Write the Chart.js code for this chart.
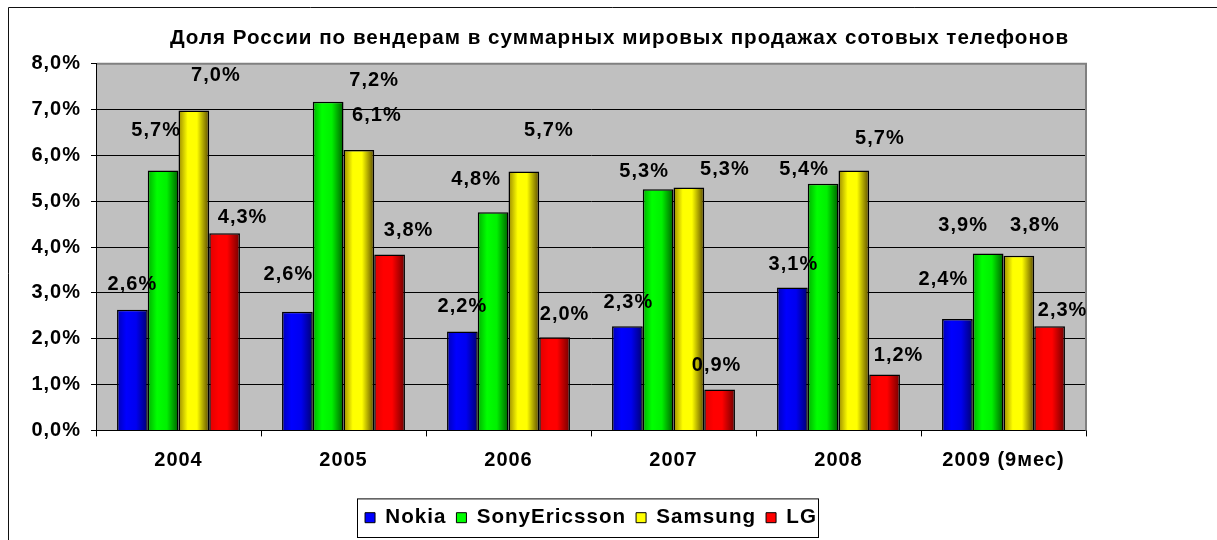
<!DOCTYPE html>
<html lang="ru">
<head>
<meta charset="utf-8">
<title>Доля России по вендерам</title>
<script src="https://cdn.jsdelivr.net/npm/chart.js@4.4.0/dist/chart.umd.min.js"></script>
<style>
  html, body { margin: 0; padding: 0; background: #fff; }
  #wrap { position: relative; width: 1217px; height: 540px; }
</style>
</head>
<body>
<div id="wrap"><canvas id="chartShare"></canvas></div>
<script>
// --- data (share of world sales, %) ---
const years = ['2004', '2005', '2006', '2007', '2008', '2009 (9мес)'];
const nokia = [2.63, 2.59, 2.16, 2.27, 3.12, 2.43];
const sonyEricsson = [5.67, 7.17, 4.76, 5.26, 5.38, 3.86];
const samsung = [6.98, 6.12, 5.65, 5.30, 5.67, 3.81];
const lg = [4.30, 3.84, 2.03, 0.89, 1.22, 2.27];
const yTicks = [0, 1, 2, 3, 4, 5, 6, 7, 8];

const FONT = "'Liberation Sans', Arial, sans-serif";
Chart.defaults.font.family = FONT;
Chart.defaults.font.size = 20;
Chart.defaults.font.weight = 'bold';
Chart.defaults.color = '#000';

const flat = ['#0000ff', '#00ff00', '#ffff00', '#ff0000'];
// horizontal shading of each bar, left -> right
const shades = [
  [[0, '#0000b8'], [0.3, '#0000ff'], [0.62, '#0000f0'], [1, '#000070']],
  [[0, '#00b000'], [0.3, '#00ff00'], [0.62, '#00f000'], [1, '#006000']],
  [[0, '#9a8a00'], [0.3, '#ffff00'], [0.6, '#ffff00'], [1, '#5a4a00']],
  [[0, '#e00000'], [0.3, '#ff0000'], [0.58, '#ff0000'], [1, '#700000']],
];

// label nudges from the bar top (Excel had them dragged by hand)
const labelNudge = [
  [[0, -25], [-9, -37], [0, -25], [1, -24], [1, -23], [-14, -40]],
  [[-7, -40], [46, -21], [-17, -33], [-14, -18], [-19, -14], [-25, -28]],
  [[22, -35], [18, -34], [25, -41], [36, -18], [26, -32], [16, -30]],
  [[18, -16], [19, -24], [10, -23], [-3, -24], [14, -19], [13, -16]],
];

const pct = (v) => v.toFixed(1).replace('.', ',') + '%';

const spacing = {
  id: 'spacing',
  beforeLayout(chart) { chart.ctx.letterSpacing = '1px'; },
  beforeDraw(chart) { chart.ctx.letterSpacing = '1px'; },
};

// white page, outer frame, grey plot area
const frame = {
  id: 'frame',
  beforeDraw(chart) {
    const { ctx, chartArea: a, width, height } = chart;
    ctx.save();
    ctx.fillStyle = '#fff';
    ctx.fillRect(0, 0, width, height);
    ctx.strokeStyle = '#111';
    ctx.lineWidth = 1;
    ctx.beginPath();
    ctx.moveTo(8.5, height);
    ctx.lineTo(8.5, 7.5);
    ctx.lineTo(width, 7.5);
    ctx.stroke();
    ctx.fillStyle = '#c0c0c0';
    ctx.fillRect(a.left, a.top, a.right - a.left, a.bottom - a.top);
    ctx.restore();
  },
};

const barShade = {
  id: 'barShade',
  beforeDatasetsDraw(chart) {
    const { ctx, chartArea: a } = chart;
    // grey edge of the plot area on top and right
    ctx.save();
    ctx.strokeStyle = '#808080';
    ctx.lineWidth = 2;
    ctx.beginPath();
    ctx.moveTo(a.left + 1, a.top);
    ctx.lineTo(a.right, a.top);
    ctx.lineTo(a.right, a.bottom);
    ctx.stroke();
    ctx.restore();

    chart.data.datasets.forEach((ds, i) => {
      chart.getDatasetMeta(i).data.forEach((bar) => {
        const { x, width } = bar.getProps(['x', 'width'], true);
        const g = ctx.createLinearGradient(x - width / 2, 0, x + width / 2, 0);
        shades[i].forEach(([stop, c]) => g.addColorStop(stop, c));
        bar.options.backgroundColor = g;
      });
    });
  },
};

const valueLabels = {
  id: 'valueLabels',
  afterDatasetsDraw(chart) {
    const ctx = chart.ctx;
    ctx.save();
    ctx.font = `bold 20px ${FONT}`;
    ctx.fillStyle = '#000';
    ctx.textAlign = 'center';
    ctx.textBaseline = 'middle';
    chart.data.datasets.forEach((ds, i) => {
      chart.getDatasetMeta(i).data.forEach((bar, j) => {
        const [dx, dy] = labelNudge[i][j];
        ctx.fillText(pct(ds.data[j]), bar.x + dx, bar.y + dy);
      });
    });
    ctx.restore();
  },
};

const legendBox = {
  id: 'legendBox',
  afterDraw(chart) {
    const lg = chart.legend;
    if (!lg || !lg.legendHitBoxes.length) return;
    const boxes = lg.legendHitBoxes;
    const left = Math.min(...boxes.map((b) => b.left)) - 8;
    const right = Math.max(...boxes.map((b) => b.left + b.width)) + 1;
    const ctx = chart.ctx;
    ctx.save();
    ctx.strokeStyle = '#000';
    ctx.lineWidth = 1;
    ctx.strokeRect(Math.round(left) + 0.5, lg.top + 1.5, Math.round(right - left), lg.height - 2);
    ctx.restore();
  },
};

const makeSet = (label, values, i) => ({
  label,
  data: values,
  backgroundColor: () => flat[i],
  borderColor: '#000',
  borderWidth: 1.5,
  categoryPercentage: 0.745,
  barPercentage: 1,
});

new Chart(document.getElementById('chartShare'), {
  type: 'bar',
  data: {
    labels: years,
    datasets: [
      makeSet('Nokia', nokia, 0),
      makeSet('SonyEricsson', sonyEricsson, 1),
      makeSet('Samsung', samsung, 2),
      makeSet('LG', lg, 3),
    ],
  },
  options: {
    responsive: true,
    maintainAspectRatio: false,
    animation: false,
    layout: { padding: { left: 22, right: 0, top: 0, bottom: 2 } },
    plugins: {
      title: {
        display: true,
        text: 'Доля России по вендерам в суммарных мировых продажах сотовых телефонов',
        color: '#000',
        font: { size: 20.6, weight: 'bold' },
        padding: { top: 26, bottom: 13 },
      },
      legend: {
        position: 'bottom',
        fullSize: false,
        labels: {
          boxWidth: 10,
          boxHeight: 10,
          padding: 10,
          color: '#000',
          font: { size: 20.6, weight: 'bold' },
          generateLabels: (chart) => chart.data.datasets.map((ds, i) => ({
            text: ds.label,
            fillStyle: flat[i],
            strokeStyle: '#000',
            lineWidth: 1,
            hidden: false,
            datasetIndex: i,
          })),
        },
      },
      tooltip: { enabled: false },
    },
    scales: {
      x: {
        grid: { display: true, drawOnChartArea: false, offset: true, tickLength: 6, color: '#000' },
        border: { color: '#000', width: 1 },
        ticks: { padding: 12, maxRotation: 0, autoSkip: false, color: '#000' },
        afterFit: (s) => { s.height = 67; },
      },
      y: {
        min: yTicks[0],
        max: yTicks[yTicks.length - 1],
        afterBuildTicks: (s) => { s.ticks = yTicks.map((v) => ({ value: v })); },
        ticks: { padding: 10, color: '#000', callback: (v) => pct(v) },
        grid: { color: '#000', lineWidth: 1, tickLength: 5, tickColor: '#000' },
        border: { color: '#000', width: 1 },
        afterFit: (s) => { s.width = 74; },
      },
      yPad: {
        position: 'right',
        display: true,
        grid: { display: false },
        border: { display: false },
        ticks: { display: false },
        afterFit: (s) => { s.width = 131; },
      },
    },
  },
  plugins: [spacing, frame, barShade, valueLabels, legendBox],
});
</script>
</body>
</html>
